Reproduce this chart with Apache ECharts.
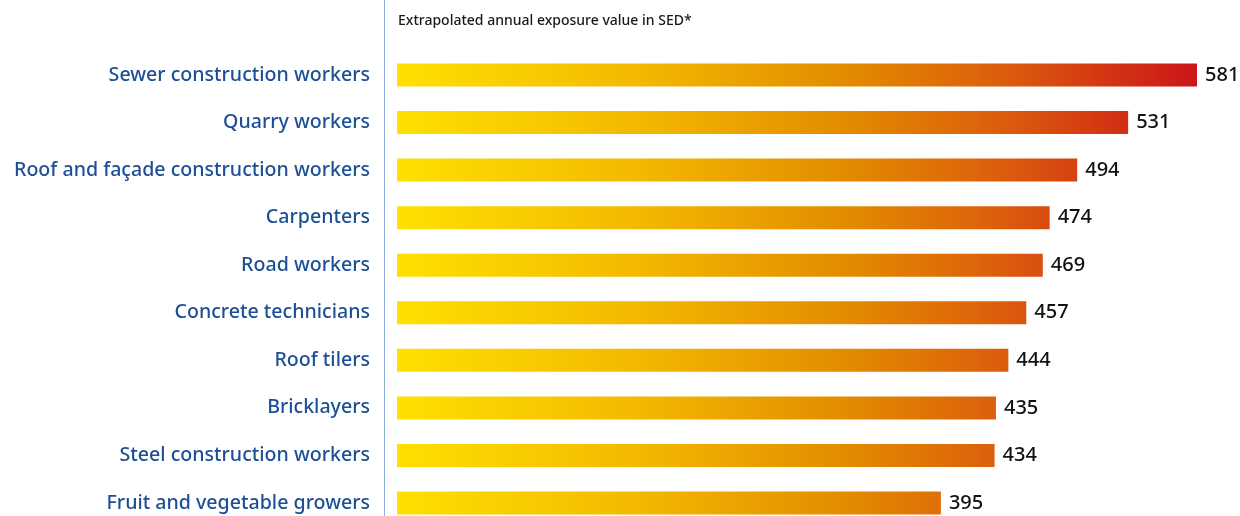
<!DOCTYPE html>
<html>
<head>
<meta charset="utf-8">
<script src="https://cdn.jsdelivr.net/npm/echarts@6/dist/echarts.min.js"></script>
<style>html,body{margin:0;padding:0;background:#fff}#c{width:1240px;height:516px}</style>
</head>
<body>
<div id="c"></div>
<script>
const categories = [
  "Sewer construction workers",
  "Quarry workers",
  "Roof and façade construction workers",
  "Carpenters",
  "Road workers",
  "Concrete technicians",
  "Roof tilers",
  "Bricklayers",
  "Steel construction workers",
  "Fruit and vegetable growers"
];
const values = [581, 531, 494, 474, 469, 457, 444, 435, 434, 395];
const title = "Extrapolated annual exposure value in SED*";

const chart = echarts.init(document.getElementById('c'), null, {renderer: 'canvas'});
const font = '"Noto Sans", "Open Sans", sans-serif';
chart.setOption({
  animation: false,
  backgroundColor: '#ffffff',
  title: {
    text: title,
    left: 393, top: 9,
    textStyle: {fontFamily: font, fontSize: 14, fontWeight: 500, color: '#1a1a1a'}
  },
  grid: {left: 397, top: 75, width: 800, bottom: 13, containLabel: false},
  xAxis: {
    type: 'value', min: 0, max: 581, show: false
  },
  yAxis: {
    type: 'category', data: categories, inverse: true, boundaryGap: false,
    axisLine: {show: false}, axisTick: {show: false},
    axisLabel: {
      margin: 27, fontFamily: font, fontSize: 19.6, fontWeight: 500, color: '#1d4f97'
    }
  },
  graphic: [{
    type: 'line', shape: {x1: 384.5, y1: 0, x2: 384.5, y2: 516},
    style: {stroke: '#8fb0da', lineWidth: 1}
  }],
  series: [{
    type: 'bar', data: values, barWidth: 23,
    itemStyle: {
      color: {
        type: 'linear', global: true, x: 397, y: 0, x2: 1197, y2: 0,
        colorStops: [
          {offset: 0, color: '#ffe000'},
          {offset: 0.3, color: '#f3b900'},
          {offset: 0.55, color: '#e38e00'},
          {offset: 0.75, color: '#dc5f0c'},
          {offset: 1, color: '#cc1419'}
        ]
      }
    },
    label: {
      show: true, position: 'right', distance: 8,
      fontFamily: font, fontSize: 20, fontWeight: 500, color: '#111111'
    }
  }]
});
</script>
</body>
</html>
